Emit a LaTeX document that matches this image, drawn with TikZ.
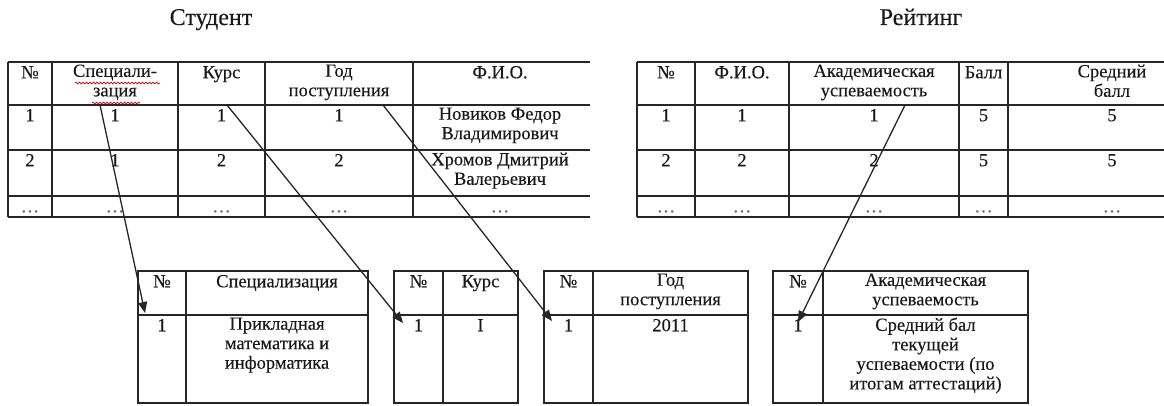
\documentclass[tikz,border=0pt]{standalone}
\usepackage{fontspec}
\setmainfont[FakeBold=0.25]{Liberation Serif}
\usetikzlibrary{arrows.meta,decorations.pathmorphing}

\begin{document}
\begin{tikzpicture}[x=1pt,y=-1pt,
  grid/.style={line width=1.8pt,black!85},
  cell/.style={anchor=north,align=center,inner sep=0pt,
    font=\fontsize{18.5}{19.5}\selectfont,text=black!90,
    execute at begin node=\strut},
  dots/.style={cell,text=black!60},
  ttl/.style={anchor=base,inner sep=0pt,font=\fontsize{24}{28}\selectfont,text=black!90},
  link/.style={line width=1.3pt,black!85,-{Triangle[length=11pt,width=9pt]}},
  spell/.style={red!80!black,line width=0.7pt,
    decorate,decoration={snake,amplitude=0.9pt,segment length=3.5pt}}]

\path[use as bounding box] (0,0) rectangle (1164,406);

% ---------- titles ----------
\node[ttl] (t-student) at (211,25) {Студент};
\node[ttl] (t-rating)  at (921,25) {Рейтинг};

% ---------- table "Студент" ----------
\foreach \yy in {62,105,150,196,217} \draw[grid] (8,\yy) -- (590,\yy);
\foreach \xx in {8,52,178,265,413} \draw[grid] (\xx,62) -- (\xx,217);

\foreach \cx/\txt [count=\i] in {30/№, 115/{Специали-\\зация}, 221.5/Курс,
    339/{Год\\поступления}, 500/Ф.И.О.}
  \node[cell] (st-h\i) at (\cx,64.4) {\txt};
\foreach \cx/\txt [count=\i] in {30/1, 115/1, 221.5/1, 339/1,
    500/{Новиков Федор\\Владимирович}}
  \node[cell] (st-a\i) at (\cx,107.4) {\txt};
\foreach \cx/\txt [count=\i] in {30/2, 115/1, 221.5/2, 339/2,
    500/{Хромов Дмитрий\\Валерьевич}}
  \node[cell] (st-b\i) at (\cx,152.4) {\txt};
\foreach \cx [count=\i] in {30,115,221.5,339,500}
  \node[dots] (st-c\i) at (\cx,198.4) {\ldots};

% spell-check marks under the hyphenated header
\draw[spell] (75,83) -- (160,83);
\draw[spell] (92,103) -- (140,103);

% ---------- table "Рейтинг" ----------
\foreach \yy in {62,105,150,196,217} \draw[grid] (637,\yy) -- (1164,\yy);
\foreach \xx in {637,695,789,959,1008} \draw[grid] (\xx,62) -- (\xx,217);

\foreach \cx/\txt [count=\i] in {666/№, 742/Ф.И.О., 874/{Академическая\\успеваемость},
    983.5/Балл, 1112/{Средний\\балл}}
  \node[cell] (rt-h\i) at (\cx,64.4) {\txt};
\foreach \cx/\txt [count=\i] in {666/1, 742/1, 874/1, 983.5/5, 1112/5}
  \node[cell] (rt-a\i) at (\cx,107.4) {\txt};
\foreach \cx/\txt [count=\i] in {666/2, 742/2, 874/2, 983.5/5, 1112/5}
  \node[cell] (rt-b\i) at (\cx,152.4) {\txt};
\foreach \cx [count=\i] in {666,742,874,983.5,1112}
  \node[dots] (rt-c\i) at (\cx,198.4) {\ldots};

% ---------- lookup tables ----------
\foreach \l/\m/\r in {138/186/368, 394/443/518, 544/593/748, 773/823/1028}{
  \draw[grid] (\l,271) rectangle (\r,403);
  \draw[grid] (\l,315) -- (\r,315);
  \draw[grid] (\m,271) -- (\m,403);
}

% specialisation
\node[cell] (sp-h1) at (162,273.4) {№};
\node[cell] (sp-h2) at (277,273.4) {Специализация};
\node[cell] (sp-a1) at (162,317.4) {1};
\node[cell] (sp-a2) at (277,317.4) {Прикладная\\математика и\\информатика};
% year of study
\node[cell] (ku-h1) at (418.5,273.4) {№};
\node[cell] (ku-h2) at (480.5,273.4) {Курс};
\node[cell] (ku-a1) at (418.5,317.4) {1};
\node[cell] (ku-a2) at (480.5,317.4) {I};
% year of admission
\node[cell] (gp-h1) at (568.5,273.4) {№};
\node[cell] (gp-h2) at (670.5,273.4) {Год\\поступления};
\node[cell] (gp-a1) at (568.5,317.4) {1};
\node[cell] (gp-a2) at (670.5,317.4) {2011};
% academic progress
\node[cell] (au-h1) at (798,273.4) {№};
\node[cell] (au-h2) at (925.5,273.4) {Академическая\\успеваемость};
\node[cell] (au-a1) at (798,317.4) {1};
\node[cell] (au-a2) at (925.5,317.4) {Средний бал\\текущей\\успеваемости (по\\итогам аттестаций)};

% ---------- foreign-key links ----------
\coordinate (k-spec) at (100,105);
\coordinate (k-kurs) at (227,105);
\coordinate (k-god)  at (383,105);
\coordinate (k-usp)  at (905,105);
\coordinate (f-spec) at (145,313);
\coordinate (f-kurs) at (403,323);
\coordinate (f-god)  at (552,321);
\coordinate (f-usp)  at (798,322);

\draw[link] (k-spec) -- (f-spec);
\draw[link] (k-kurs) -- (f-kurs);
\draw[link] (k-god)  -- (f-god);
\draw[link] (k-usp)  -- (f-usp);

\end{tikzpicture}
\end{document}
